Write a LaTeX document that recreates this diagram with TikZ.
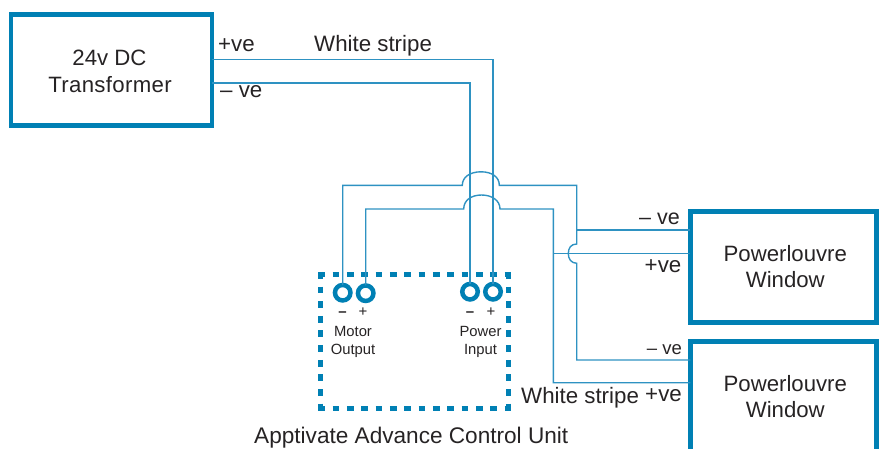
\documentclass[tikz,border=0pt]{standalone}
\usepackage{fontspec}
\setmainfont{Liberation Sans}
\definecolor{boxblue}{HTML}{0080B4}
\definecolor{wireblue}{HTML}{2E92C2}
\definecolor{inkgrey}{HTML}{262324}
\tikzset{
  boxnode/.style={draw=boxblue,line width=4.5pt,outer sep=0pt,inner sep=0pt,align=center,text=inkgrey,
    font=\fontsize{22.2}{26}\selectfont},
  ctrlbox/.style={outer sep=0pt,inner sep=0pt,minimum width=188.3pt,minimum height=133.7pt},
  ctrlh/.style={draw=boxblue,line width=5pt,dash pattern=on 6.8pt off 7.55pt,shorten <=-2.5pt,shorten >=-2.5pt},
  ctrlv/.style={draw=boxblue,line width=5pt,dash pattern=on 6.8pt off 7.85pt,shorten <=-2.5pt,shorten >=-2.5pt},
  terminal/.style={circle,draw=boxblue,line width=4.5pt,minimum size=15.5pt,inner sep=0pt,outer sep=0pt},
  wire/.style={draw=wireblue,line width=1.4pt,line join=miter},
  lab/.style={text=inkgrey,inner sep=0pt,anchor=base west,font=\fontsize{22.3}{26}\selectfont},
  labr/.style={text=inkgrey,inner sep=0pt,anchor=base east,font=\fontsize{22.3}{26}\selectfont},
  small/.style={text=inkgrey,inner sep=0pt,anchor=base,font=\fontsize{14.8}{18}\selectfont},
  sign/.style={text=inkgrey,inner sep=0pt,anchor=base,font=\fontsize{15}{18}\selectfont},
}
\begin{document}
\begin{tikzpicture}[x=1pt,y=-1pt]
\useasboundingbox (0,0) rectangle (885,448);
\clip (0,0) rectangle (885,448);
% blocks
\node[boxnode,minimum width=201pt,minimum height=111pt] (trans) at (111.5,70)
  {\rule{0pt}{18pt}24v DC\hspace*{4pt}\\[1.5pt]{\addfontfeature{LetterSpace=1.5}Transformer}\hspace*{3pt}};
\node[boxnode,minimum width=186pt,minimum height=111pt] (win1) at (783.3,267) {\hspace*{4pt}Powerlouvre\\\hspace*{4pt}Window};
\node[boxnode,minimum width=186pt,minimum height=111pt] (win2) at (783.3,397) {\hspace*{4pt}Powerlouvre\\\hspace*{4pt}Window};
\node[ctrlbox] (ctrl) at (414.8,341.2) {};
\draw[ctrlh] (ctrl.north west) -- (ctrl.north east);
\draw[ctrlh] (ctrl.south west) -- (ctrl.south east);
\draw[ctrlv] (ctrl.north west) -- (ctrl.south west);
\draw[ctrlv] (ctrl.north east) -- (ctrl.south east);
% terminals
\node[terminal] (mneg) at (342.7,292.7) {};
\node[terminal] (mpos) at (365.7,293.2) {};
\node[terminal] (pneg) at (470,291.7) {};
\node[terminal] (ppos) at (493,291.7) {};
% junction coordinates
\coordinate (upper) at (576.7,230);
\coordinate (lower) at (553.3,253.3);
% supply wires
\draw[wire] (trans.east |- 0,59.2) -- (ppos.north |- 0,59.2) -- (ppos.north);
\draw[wire] (trans.east |- 0,83) -- (pneg.north |- 0,83) -- (pneg.north);
% motor wire, upper
\draw[wire] (mneg.north) -- (mneg.north |- 0,185.3) -- (462.3,185.3)
  .. controls (462.3,177) and (470,171.8) .. (481,171.8)
  .. controls (492,171.8) and (499.3,177) .. (499.3,185.3)
  -- (upper |- 0,185.3) -- (upper) -- (upper |- 0,244)
  .. controls (571,244) and (568.3,248) .. (568.3,253.5)
  .. controls (568.3,259) and (571,263) .. (576.7,263.3)
  -- (upper |- 0,360) -- (win2.west |- 0,360);
\draw[wire] (upper) -- (win1.west |- upper);
% motor wire, lower
\draw[wire] (mpos.north) -- (mpos.north |- 0,209) -- (463.7,209)
  .. controls (463.7,200.5) and (471,195) .. (481.5,195)
  .. controls (492,195) and (500,200.5) .. (500,209)
  -- (lower |- 0,209) -- (lower) -- (lower |- 0,382.7) -- (win2.west |- 0,382.7);
\draw[wire] (lower) -- (win1.west |- lower);
% labels
\node[lab] (l1) at (218,51.7) {+ve};
\node[lab] (l2) at (220,97.7) {– ve};
\node[lab] (l3) at (314,51) {White stripe};
\node[labr,font=\fontsize{21.5}{26}\selectfont] (l4) at (680,224.7) {– ve};
\node[labr] (l5) at (681.5,272.7) {+ve};
\node[labr,font=\fontsize{18.5}{24}\selectfont] (l6) at (682,354) {– ve};
\node[lab] (l7) at (521,403) {White stripe};
\node[labr] (l8) at (682,401.7) {+ve};
\node[lab,font=\fontsize{22.6}{26}\selectfont] (l9) at (254,443) {Apptivate Advance Control Unit};
\node[sign,font=\fontsize{15}{18}\selectfont\bfseries] (s1) at (342.5,316) {–};
\node[sign] (s2) at (363,316) {+};
\node[sign,font=\fontsize{15}{18}\selectfont\bfseries] (s3) at (470,316) {–};
\node[sign] (s4) at (491,316) {+};
\node[small] (t1) at (353,336) {Motor};
\node[small] (t2) at (353,354) {Output};
\node[small] (t3) at (480.5,336) {Power};
\node[small] (t4) at (480.5,354) {Input};
\end{tikzpicture}
\end{document}
